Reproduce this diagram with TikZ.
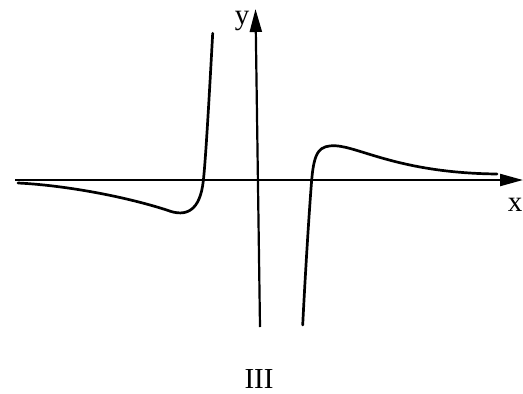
\documentclass[tikz,border=0pt]{standalone}
\usepackage{fontspec}
\setmainfont{Liberation Serif}
\usetikzlibrary{arrows.meta}
\tikzset{
  axisline/.style={line width=2.2pt, -{Triangle[length=23pt,width=12pt]}},
  curveline/.style={line width=2.7pt, line cap=round, line join=round},
  lbl/.style={inner sep=0pt, font=\fontsize{29}{31}\selectfont},
}
\begin{document}
\begin{tikzpicture}[x=1pt,y=-1pt]
\useasboundingbox (0,0) rectangle (523,394);
\coordinate (xs) at (15,180);
\coordinate (xe) at (523,180);
\coordinate (ys) at (260,327);
\coordinate (ye) at (255.5,9);
\draw[axisline] (xs) -- (xe);
\draw[axisline] (ys) -- (ye);
\node[lbl, anchor=base] (ylab) at (242,24) {y};
\node[lbl, anchor=base] (xlab) at (515,211) {x};
\node[lbl, anchor=base] (cap) at (259,388.5) {III};
% left branch
\coordinate (l0) at (18,183);
\coordinate (l1) at (166.7,210);
\coordinate (l2) at (203.3,181);
\coordinate (l3) at (212.7,33.3);
\draw[curveline] (l0) .. controls (60,185) and (120,195) .. (l1)
  .. controls (187,218) and (200,210) .. (l2)
  .. controls (205.5,161) and (208.5,110) .. (l3);
% right branch
\coordinate (r0) at (302.7,325);
\coordinate (r1) at (311.7,180);
\coordinate (r2) at (335,145.7);
\coordinate (r4) at (497,174);
\draw[curveline] (r0) .. controls (306,260) and (310,200) .. (r1)
  .. controls (314.2,150) and (320,145.7) .. (r2)
  .. controls (360,147) and (400,173) .. (r4);
\end{tikzpicture}
\end{document}
